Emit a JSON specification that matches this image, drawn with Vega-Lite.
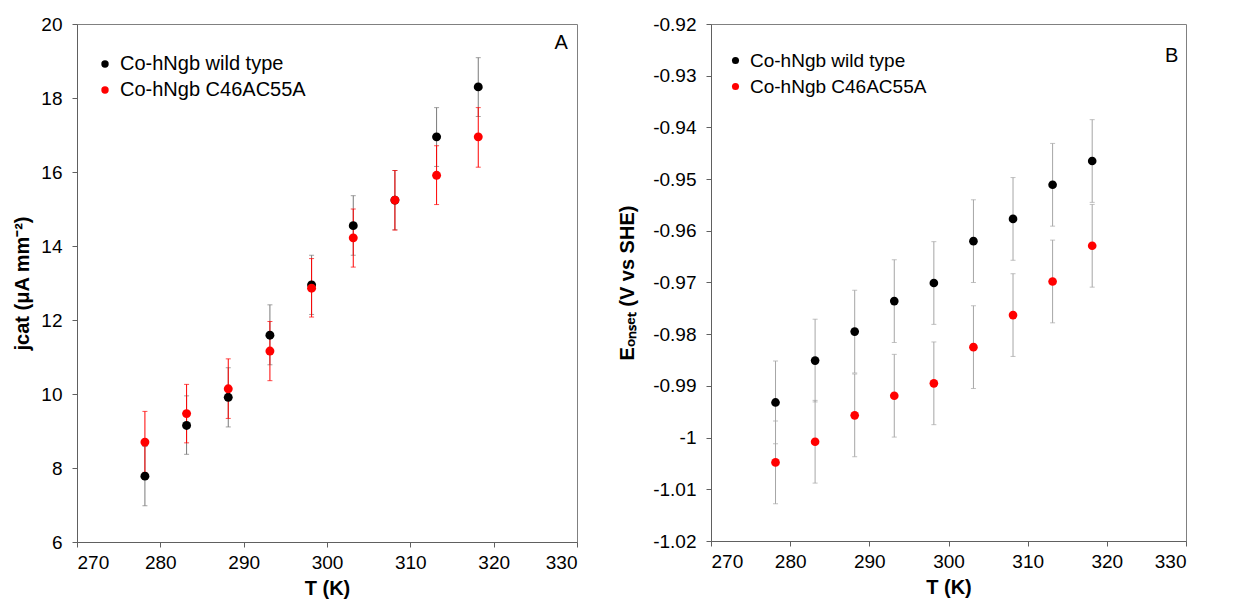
{
  "$schema": "https://vega.github.io/schema/vega-lite/v6.json",
  "background": "white",
  "padding": {"left": 12, "top": 14, "right": 5, "bottom": 5},
  "spacing": 134,
  "bounds": "flush",
  "datasets": {
    "a": [
      {"T": 278.15, "series": "Co-hNgb wild type", "v": 7.78, "lo": 6.98, "hi": 8.58},
      {"T": 283.15, "series": "Co-hNgb wild type", "v": 9.15, "lo": 8.37, "hi": 9.95},
      {"T": 288.15, "series": "Co-hNgb wild type", "v": 9.91, "lo": 9.11, "hi": 10.71},
      {"T": 293.15, "series": "Co-hNgb wild type", "v": 11.59, "lo": 10.79, "hi": 12.41},
      {"T": 298.15, "series": "Co-hNgb wild type", "v": 12.95, "lo": 12.15, "hi": 13.75},
      {"T": 303.15, "series": "Co-hNgb wild type", "v": 14.55, "lo": 13.75, "hi": 15.36},
      {"T": 308.15, "series": "Co-hNgb wild type", "v": 15.24, "lo": 14.44, "hi": 16.04},
      {"T": 313.15, "series": "Co-hNgb wild type", "v": 16.95, "lo": 16.15, "hi": 17.74},
      {"T": 318.15, "series": "Co-hNgb wild type", "v": 18.3, "lo": 17.5, "hi": 19.09},
      {"T": 278.15, "series": "Co-hNgb C46AC55A", "v": 8.7, "lo": 7.88, "hi": 9.53},
      {"T": 283.15, "series": "Co-hNgb C46AC55A", "v": 9.47, "lo": 8.68, "hi": 10.26},
      {"T": 288.15, "series": "Co-hNgb C46AC55A", "v": 10.14, "lo": 9.34, "hi": 10.95},
      {"T": 293.15, "series": "Co-hNgb C46AC55A", "v": 11.16, "lo": 10.36, "hi": 11.96},
      {"T": 298.15, "series": "Co-hNgb C46AC55A", "v": 12.86, "lo": 12.08, "hi": 13.66},
      {"T": 303.15, "series": "Co-hNgb C46AC55A", "v": 14.22, "lo": 13.43, "hi": 15.0},
      {"T": 308.15, "series": "Co-hNgb C46AC55A", "v": 15.24, "lo": 14.43, "hi": 16.04},
      {"T": 313.15, "series": "Co-hNgb C46AC55A", "v": 15.91, "lo": 15.12, "hi": 16.71},
      {"T": 318.15, "series": "Co-hNgb C46AC55A", "v": 16.95, "lo": 16.13, "hi": 17.74}
    ],
    "b": [
      {"T": 278.15, "series": "Co-hNgb wild type", "v": -0.9932, "lo": -1.0012, "hi": -0.9852},
      {"T": 283.15, "series": "Co-hNgb wild type", "v": -0.9851, "lo": -0.9931, "hi": -0.9771},
      {"T": 288.15, "series": "Co-hNgb wild type", "v": -0.9795, "lo": -0.9875, "hi": -0.9715},
      {"T": 293.15, "series": "Co-hNgb wild type", "v": -0.9736, "lo": -0.9816, "hi": -0.9656},
      {"T": 298.15, "series": "Co-hNgb wild type", "v": -0.9701, "lo": -0.9781, "hi": -0.9621},
      {"T": 303.15, "series": "Co-hNgb wild type", "v": -0.962, "lo": -0.97, "hi": -0.954},
      {"T": 308.15, "series": "Co-hNgb wild type", "v": -0.9577, "lo": -0.9657, "hi": -0.9497},
      {"T": 313.15, "series": "Co-hNgb wild type", "v": -0.9511, "lo": -0.9591, "hi": -0.9431},
      {"T": 318.15, "series": "Co-hNgb wild type", "v": -0.9465, "lo": -0.9545, "hi": -0.9385},
      {"T": 278.15, "series": "Co-hNgb C46AC55A", "v": -1.0048, "lo": -1.0128, "hi": -0.9968},
      {"T": 283.15, "series": "Co-hNgb C46AC55A", "v": -1.0008, "lo": -1.0088, "hi": -0.9928},
      {"T": 288.15, "series": "Co-hNgb C46AC55A", "v": -0.9957, "lo": -1.0037, "hi": -0.9877},
      {"T": 293.15, "series": "Co-hNgb C46AC55A", "v": -0.9919, "lo": -0.9999, "hi": -0.9839},
      {"T": 298.15, "series": "Co-hNgb C46AC55A", "v": -0.9895, "lo": -0.9975, "hi": -0.9815},
      {"T": 303.15, "series": "Co-hNgb C46AC55A", "v": -0.9825, "lo": -0.9905, "hi": -0.9745},
      {"T": 308.15, "series": "Co-hNgb C46AC55A", "v": -0.9763, "lo": -0.9843, "hi": -0.9683},
      {"T": 313.15, "series": "Co-hNgb C46AC55A", "v": -0.9698, "lo": -0.9778, "hi": -0.9618},
      {"T": 318.15, "series": "Co-hNgb C46AC55A", "v": -0.9629, "lo": -0.9709, "hi": -0.9549}
    ],
    "labA": [{"T": 328.1, "v": 19.5, "label": "A"}],
    "labB": [{"T": 328.2, "v": -0.9261, "label": "B"}]
  },
  "hconcat": [
    {
      "width": 500,
      "height": 518,
      "data": {"name": "a"},
      "encoding": {
        "x": {"field": "T", "type": "quantitative", "scale": {"domain": [270, 330], "nice": false, "zero": false},
              "axis": {"title": "T (K)", "values": [270, 280, 290, 300, 310, 320, 330]}}
      },
      "layer": [
        {
          "transform": [{"filter": "datum.series == 'Co-hNgb wild type'"}],
          "mark": {"type": "rule", "color": "#7a7a7a", "strokeWidth": 1},
          "encoding": {
            "y": {"field": "lo", "type": "quantitative", "scale": {"domain": [6, 20], "nice": false, "zero": false},
                  "axis": {"title": "jcat (μA mm⁻²)", "values": [6, 8, 10, 12, 14, 16, 18, 20]}},
            "y2": {"field": "hi"}
          }
        },
        {
          "transform": [{"filter": "datum.series == 'Co-hNgb wild type'"}],
          "mark": {"type": "tick", "orient": "horizontal", "color": "#7a7a7a", "size": 5, "thickness": 1},
          "encoding": {"y": {"field": "lo", "type": "quantitative"}}
        },
        {
          "transform": [{"filter": "datum.series == 'Co-hNgb wild type'"}],
          "mark": {"type": "tick", "orient": "horizontal", "color": "#7a7a7a", "size": 5, "thickness": 1},
          "encoding": {"y": {"field": "hi", "type": "quantitative"}}
        },
        {
          "transform": [{"filter": "datum.series == 'Co-hNgb C46AC55A'"}],
          "mark": {"type": "rule", "color": "#ff0000", "strokeWidth": 1},
          "encoding": {
            "y": {"field": "lo", "type": "quantitative"},
            "y2": {"field": "hi"}
          }
        },
        {
          "transform": [{"filter": "datum.series == 'Co-hNgb C46AC55A'"}],
          "mark": {"type": "tick", "orient": "horizontal", "color": "#ff0000", "size": 5, "thickness": 1},
          "encoding": {"y": {"field": "lo", "type": "quantitative"}}
        },
        {
          "transform": [{"filter": "datum.series == 'Co-hNgb C46AC55A'"}],
          "mark": {"type": "tick", "orient": "horizontal", "color": "#ff0000", "size": 5, "thickness": 1},
          "encoding": {"y": {"field": "hi", "type": "quantitative"}}
        },
        {
          "mark": {"type": "point", "filled": true, "shape": "circle", "size": 80, "opacity": 1},
          "encoding": {
            "y": {"field": "v", "type": "quantitative"},
            "fill": {"field": "series", "type": "nominal",
                     "scale": {"domain": ["Co-hNgb wild type", "Co-hNgb C46AC55A"], "range": ["#000000", "#ff0000"]},
                     "legend": {"title": null, "orient": "none", "legendX": 16, "legendY": 28, "labelFontSize": 20, "labelLimit": 400, "symbolSize": 55, "rowPadding": 6, "labelOffset": 5, "padding": 2}}
          }
        },
        {
          "data": {"name": "labA"},
          "mark": {"type": "text", "fontSize": 20, "font": "Liberation Sans", "color": "#000000"},
          "encoding": {
            "y": {"field": "v", "type": "quantitative"},
            "text": {"field": "label"}
          }
        }
      ]
    },
    {
      "width": 475,
      "height": 517,
      "data": {"name": "b"},
      "encoding": {
        "x": {"field": "T", "type": "quantitative", "scale": {"domain": [270, 330], "nice": false, "zero": false},
              "axis": {"title": "T (K)", "values": [270, 280, 290, 300, 310, 320, 330]}}
      },
      "layer": [
        {
          "mark": {"type": "rule", "color": "#a6a6a6", "strokeWidth": 1},
          "encoding": {
            "y": {"field": "lo", "type": "quantitative", "scale": {"domain": [-1.02, -0.92], "nice": false, "zero": false},
                  "axis": {"title": "Eₒₙₛₑₜ (V vs SHE)", "titlePadding": 15,
                           "values": [-1.02, -1.01, -1.0, -0.99, -0.98, -0.97, -0.96, -0.95, -0.94, -0.93, -0.92],
                           "labelExpr": "replace(format(datum.value, '.2~f'), '−', '-')"}},
            "y2": {"field": "hi"}
          }
        },
        {
          "mark": {"type": "tick", "orient": "horizontal", "color": "#a6a6a6", "size": 5, "thickness": 1},
          "encoding": {"y": {"field": "lo", "type": "quantitative"}}
        },
        {
          "mark": {"type": "tick", "orient": "horizontal", "color": "#a6a6a6", "size": 5, "thickness": 1},
          "encoding": {"y": {"field": "hi", "type": "quantitative"}}
        },
        {
          "mark": {"type": "point", "filled": true, "shape": "circle", "size": 75, "opacity": 1},
          "encoding": {
            "y": {"field": "v", "type": "quantitative"},
            "fill": {"field": "series", "type": "nominal",
                     "scale": {"domain": ["Co-hNgb wild type", "Co-hNgb C46AC55A"], "range": ["#000000", "#ff0000"]},
                     "legend": {"title": null, "orient": "none", "legendX": 13, "legendY": 25, "labelFontSize": 19, "labelLimit": 400, "symbolSize": 50, "rowPadding": 6, "labelOffset": 5, "padding": 2}}
          }
        },
        {
          "data": {"name": "labB"},
          "mark": {"type": "text", "fontSize": 20, "font": "Liberation Sans", "color": "#000000"},
          "encoding": {
            "y": {"field": "v", "type": "quantitative"},
            "text": {"field": "label"}
          }
        }
      ]
    }
  ],
  "resolve": {"scale": {"fill": "independent", "y": "independent"}, "legend": {"fill": "independent"}},
  "config": {
    "font": "Liberation Sans",
    "view": {"stroke": "#808080", "strokeWidth": 1},
    "axis": {
      "grid": false,
      "domainColor": "#606060",
      "tickColor": "#606060",
      "tickSize": 5,
      "labelFont": "Liberation Sans",
      "labelFontSize": 19,
      "labelColor": "#000000",
      "titleFont": "Liberation Sans",
      "titleFontSize": 20,
      "titleFontWeight": "bold",
      "titleColor": "#000000"
    },
    "axisX": {"labelPadding": 6, "titlePadding": 6},
    "axisY": {"labelPadding": 10, "titlePadding": 8},
    "legend": {"labelFont": "Liberation Sans", "labelColor": "#000000", "symbolType": "circle", "symbolStrokeWidth": 0}
  }
}
